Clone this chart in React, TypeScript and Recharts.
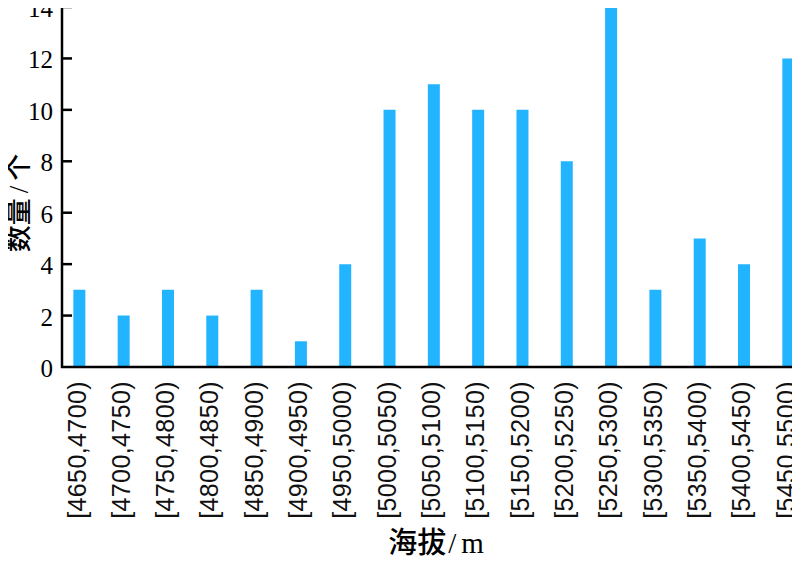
import React from 'react';
import { BarChart, Bar, XAxis, YAxis } from 'recharts';

const ranges = [
  '[4650,4700)', '[4700,4750)', '[4750,4800)', '[4800,4850)', '[4850,4900)',
  '[4900,4950)', '[4950,5000)', '[5000,5050)', '[5050,5100)', '[5100,5150)',
  '[5150,5200)', '[5200,5250)', '[5250,5300)', '[5300,5350)', '[5350,5400)',
  '[5400,5450)', '[5450,5500)',
];
const counts = [3, 2, 3, 2, 3, 1, 4, 10, 11, 10, 10, 8, 14, 3, 5, 4, 12];
const yTicks = [0, 2, 4, 6, 8, 10, 12, 14];

const data = ranges.map((r, i) => ({ range: r, count: counts[i] }));

// axis sits 10px left of the plot so the inward ticks stay in the axis area
const YTick = (props: any) => {
  const { x, y, payload } = props;
  return (
    <g>
      <path d={`M${x - 11},${y}H${x}`} stroke='#000' strokeWidth={2.5} fill='none' />
      <text
        x={x - 19}
        y={y}
        dy={10}
        textAnchor='end'
        fontFamily='Liberation Serif'
        fontSize={25}
        fill='#000'
      >
        {payload.value}
      </text>
    </g>
  );
};

const XTick = (props: any) => {
  const { x, y, payload } = props;
  return (
    <text
      x={0}
      y={0}
      dy={6}
      transform={`translate(${x},${y + 6}) rotate(-90)`}
      textAnchor='end'
      fontFamily='Liberation Sans'
      fontSize={25}
      letterSpacing={0.4}
      fill='#111'
    >
      {payload.value}
    </text>
  );
};

const XTitle = () => (
  <text x={436} y={553} textAnchor='middle' fill='#000' fontSize={29}>
    <tspan fontFamily='Noto Sans CJK SC' fontWeight={500}>海拔</tspan>
    <tspan fontFamily='Liberation Serif' dx={2}>/</tspan>
    <tspan fontFamily='Liberation Serif' dx={5}>m</tspan>
  </text>
);

const YTitle = (props: any) => {
  const { viewBox } = props;
  const ax = viewBox.x + viewBox.width - 10;
  return (
    <g>
      <path
        d={`M${ax},${viewBox.y}V${viewBox.y + viewBox.height + 1}`}
        stroke='#000'
        strokeWidth={2.5}
        fill='none'
      />
      <text
        transform='translate(28,203) rotate(-90)'
        textAnchor='middle'
        fill='#000'
        fontSize={27}
      >
        <tspan fontFamily='Noto Sans CJK SC' fontWeight={500}>数量</tspan>
        <tspan fontFamily='Liberation Serif' dx={5}>/</tspan>
        <tspan fontFamily='Noto Sans CJK SC' fontWeight={500} dx={5}>个</tspan>
      </text>
    </g>
  );
};

const App = () => {
  return (
    <div style={{ margin: -8, width: 800, height: 564, overflow: 'hidden' }}>
      <BarChart
        width={800}
        height={564}
        data={data}
        margin={{ top: 7, right: 0, left: 0, bottom: 0 }}
      >
        <XAxis
          dataKey='range'
          scale='point'
          padding={{ left: 7.5, right: 11.5 }}
          interval={0}
          height={197}
          tickLine={false}
          axisLine={{ stroke: '#000', strokeWidth: 2.5 }}
          tick={<XTick />}
          label={<XTitle />}
        />
        <YAxis
          width={72}
          domain={[0, 14]}
          ticks={yTicks}
          interval={0}
          tickLine={false}
          tickSize={0}
          tickMargin={0}
          axisLine={false}
          tick={<YTick />}
          label={<YTitle />}
        />
        <Bar
          dataKey='count'
          fill='#22b4ff'
          barSize={12}
          isAnimationActive={false}
        />
      </BarChart>
    </div>
  );
};

export default App;
